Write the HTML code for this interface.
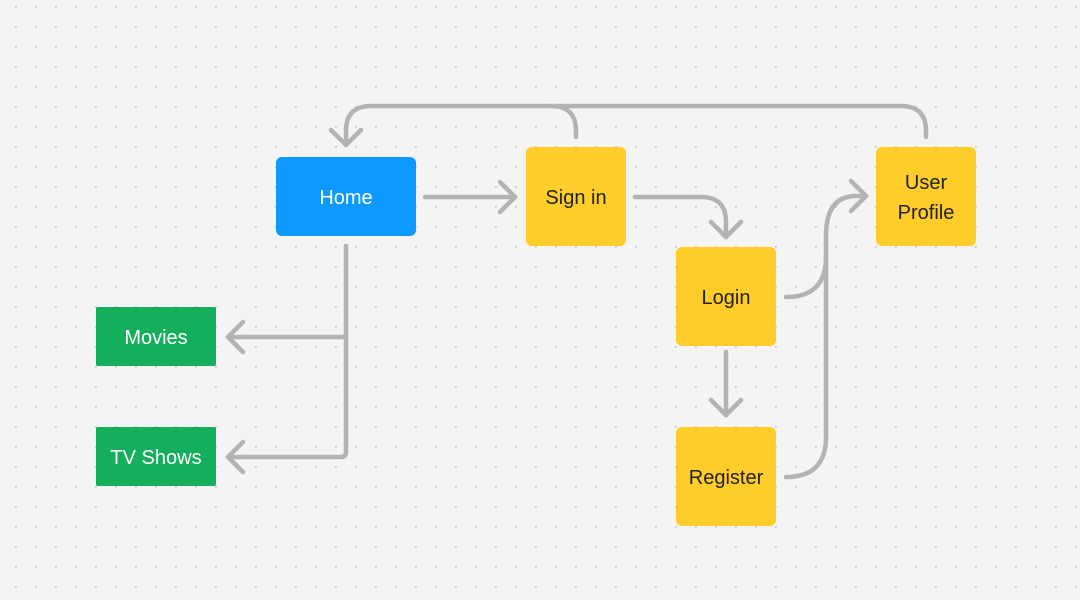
<!DOCTYPE html>
<html><head><meta charset="utf-8"><style>
html,body{margin:0;padding:0}
body{width:1080px;height:600px;overflow:hidden;background:#f4f4f4;position:relative;font-family:"Liberation Sans",sans-serif}
.b{position:absolute;display:flex;align-items:center;justify-content:center;text-align:center;font-size:20px;line-height:30px;border-radius:6px;padding-top:2px;box-sizing:border-box}
.y{background:#ffcd29;color:#222}
.g{background:#14ae5c;color:#fff;border-radius:2px}
</style></head><body>
<svg width="1080" height="600" style="position:absolute;left:0;top:0">
<defs><pattern id="d" x="15" y="6" width="20" height="20" patternUnits="userSpaceOnUse"><circle cx="0.8" cy="0.8" r="1.1" fill="#c6c6c6"/></pattern></defs>
<rect width="1080" height="600" fill="url(#d)"/>
<g fill="none" stroke="#b3b3b3" stroke-width="4.5" stroke-linecap="round" stroke-linejoin="round">
<path d="M576 137 V131 Q576 106 551 106 H371 Q346 106 346 131 V145"/>
<path d="M926 137 V131 Q926 106 901 106 H551"/>
<path d="M331 130 L346 145 L361 130"/>
<path d="M425 197 H515"/><path d="M500 182 L515 197 L500 212"/>
<path d="M635 197 H701 Q726 197 726 222 V237"/><path d="M711 222 L726 237 L741 222"/>
<path d="M726 352 V415"/><path d="M711 400 L726 415 L741 400"/>
<path d="M346 246 V452 Q346 457 341 457 H228"/><path d="M243 442 L228 457 L243 472"/>
<path d="M346 337 H228"/><path d="M243 322 L228 337 L243 352"/>
<path d="M786 297 Q826 297 826 257 V236 Q826 196 856 196 H866"/>
<path d="M786 477 Q826 477 826 437 V257"/>
<path d="M851 181 L866 196 L851 211"/>
</g></svg>
<div class="b" style="left:276px;top:157px;width:140px;height:79px;background:#0d99ff;color:#fff">Home</div>
<div class="b y" style="left:526px;top:147px;width:100px;height:99px">Sign in</div>
<div class="b y" style="left:876px;top:147px;width:100px;height:99px">User<br>Profile</div>
<div class="b y" style="left:676px;top:247px;width:100px;height:99px">Login</div>
<div class="b y" style="left:676px;top:427px;width:100px;height:99px">Register</div>
<div class="b g" style="left:96px;top:307px;width:120px;height:59px">Movies</div>
<div class="b g" style="left:96px;top:427px;width:120px;height:59px">TV Shows</div>
</body></html>
